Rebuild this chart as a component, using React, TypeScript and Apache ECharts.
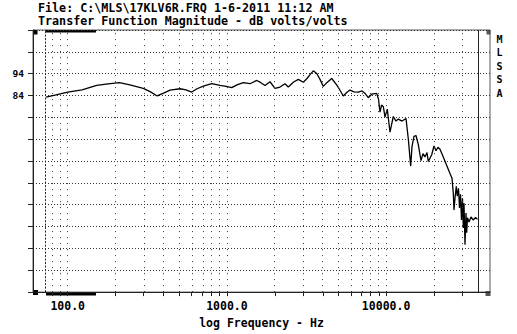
import { useEffect, useRef } from "react";
import * as echarts from "echarts";

const TITLE_LINES = [
  "File: C:\\MLS\\17KLV6R.FRQ 1-6-2011 11:12 AM",
  "Transfer Function Magnitude - dB volts/volts",
];
const SIDE_LABEL = ["M", "L", "S", "S", "A"];
const X_NAME = "log Frequency - Hz";

const FREQ_HZ = [
  73.1, 84.4, 100, 123, 152, 179, 211, 246, 298, 329,
  365, 403, 439, 508, 553, 601, 649, 711, 803, 905,
  987, 1072, 1157, 1268, 1397, 1539, 1626, 1735, 1865, 2005,
  2155, 2317, 2430, 2613, 2809, 3020, 3185, 3327, 3489, 3665,
  3844, 4032, 4255, 4553, 4894, 5133, 5385, 5680, 5934, 6286,
  6689, 7056, 7370, 7730, 8119, 8730, 8960, 9156, 9357, 9603,
  9843, 10174, 10580, 11098, 11539, 11928, 12588, 13335, 13785, 14271,
  14543, 14969, 15410, 15932, 16565, 17053, 17555, 18068, 18413, 19342,
  19995, 20584, 21184, 21806, 22869, 24030, 25200, 25942, 26431, 26700,
  27090, 27606, 28006, 28500, 28917, 29333, 29761, 30196, 30546, 30856,
  31307, 31765, 32088, 32460, 33171, 34147, 35298, 36443, 37512,
];
const MAGNITUDE_DB = [
  83.3, 84.3, 85.6, 86.6, 88.6, 89.3, 89.9, 88.9, 87.3, 85.8,
  83.8, 85.2, 86.5, 87.1, 86.6, 85.6, 87.1, 88.3, 89.5, 88.6,
  88.2, 87.6, 88.9, 89.9, 89.4, 90.9, 90.0, 88.6, 90.3, 87.3,
  87.9, 89.4, 87.9, 90.1, 91.4, 90.1, 91.8, 93.6, 95.3, 94.1,
  91.4, 88.2, 90.0, 91.8, 88.9, 86.4, 83.8, 85.5, 86.5, 85.7,
  85.6, 86.1, 85.0, 83.0, 84.6, 85.0, 82.3, 76.4, 79.6, 79.0,
  74.1, 77.8, 67.2, 74.4, 72.3, 73.2, 72.3, 73.5, 64.2, 51.7,
  60.6, 65.3, 65.7, 61.5, 54.2, 57.4, 55.9, 57.9, 53.8, 56.9,
  60.9, 58.7, 60.3, 59.4, 55.9, 52.0, 48.3, 46.1, 39.3, 31.6,
  37.0, 42.4, 37.9, 41.5, 32.5, 38.8, 27.0, 37.0, 23.4, 34.7,
  15.7, 30.2, 21.2, 28.0, 26.1, 28.4, 27.0, 28.2, 27.3,
];

const GRID_FREQS_HZ = [
  80, 90, 100, 200, 300, 400, 500, 600, 700, 800, 900,
  1000, 2000, 3000, 4000, 5000, 6000, 7000, 8000, 9000,
  10000, 20000, 30000,
];
const LABEL_FREQS_HZ = [100, 1000, 10000];
const Y_LABELS_DB = [94, 84];
const GATE_HZ = [73, 37800];

const FREQ_MIN = 60.5;
const FREQ_MAX = 44950;
const DB_MIN = -6;
const DB_MAX = 114;
const DB_STEP = 10;

const MONO = '"DejaVu Sans Mono", monospace';

export default function App() {
  const ref = useRef<HTMLDivElement>(null);

  useEffect(() => {
    if (!ref.current) return;
    const chart = echarts.init(ref.current, undefined, { renderer: "svg" });
    const lg = (f: number) => Math.log10(f);
    const data = FREQ_HZ.map((f, i) => [lg(f), MAGNITUDE_DB[i] - DB_MIN]);

    const option: any = {
      animation: false,
      backgroundColor: "#ffffff",
      grid: {
        left: 33,
        top: 30,
        right: 27,
        bottom: 39,
        show: true,
        borderColor: "#555",
        borderWidth: 1,
      },
      xAxis: {
        type: "value",
        min: lg(FREQ_MIN),
        max: lg(FREQ_MAX),
        name: X_NAME,
        nameLocation: "middle",
        nameGap: 24,
        nameTextStyle: { fontFamily: MONO, fontWeight: "bold", fontSize: 11.5, color: "#000" },
        axisLine: { show: true, lineStyle: { color: "#222", width: 1 } },
        axisTick: {
          show: true,
          length: 4,
          lineStyle: { color: "#222" },
          customValues: GRID_FREQS_HZ.map(lg),
        },
        axisLabel: {
          show: true,
          margin: 8,
          customValues: LABEL_FREQS_HZ.map(lg),
          formatter: (v: number) => Math.pow(10, v).toFixed(1),
          fontFamily: MONO,
          fontWeight: "bold",
          fontSize: 11.5,
          color: "#000",
        },
        splitLine: { show: false },
      },
      yAxis: {
        type: "value",
        min: 0,
        max: DB_MAX - DB_MIN,
        interval: DB_STEP,
        axisLine: { show: true, lineStyle: { color: "#222", width: 1 } },
        axisTick: { show: true, length: 5, lineStyle: { color: "#222" } },
        axisLabel: {
          margin: 9,
          formatter: (v: number) => {
            const db = Math.round(v + DB_MIN);
            return Y_LABELS_DB.includes(db) ? String(db) : "";
          },
          fontFamily: MONO,
          fontWeight: "bold",
          fontSize: 9.5,
          color: "#000",
        },
        splitLine: {
          show: true,
          lineStyle: { type: [1, 2], color: "#333", width: 1 },
        },
      },
      series: [
        {
          type: "line",
          data,
          showSymbol: false,
          symbol: "none",
          lineStyle: { color: "#000", width: 1.3 },
          markLine: {
            silent: true,
            symbol: "none",
            label: { show: false },
            lineStyle: { type: [1, 5], color: "#333", width: 1 },
            data: [
              ...GRID_FREQS_HZ.map((f) => ({ xAxis: lg(f) })),
              { xAxis: lg(GATE_HZ[0]), lineStyle: { type: [2, 1.5], color: "#222", width: 1 } },
              { xAxis: lg(GATE_HZ[1]), lineStyle: { type: "solid", color: "#222", width: 1 } },
            ],
          },
        },
      ],
      graphic: [
        { type: "rect", shape: { x: 33, y: 30, width: 4.5, height: 4.5 }, style: { fill: "#000" } },
        { type: "rect", shape: { x: 46, y: 30, width: 50, height: 2.5 }, style: { fill: "#000" } },
        { type: "rect", shape: { x: 46, y: 292.5, width: 50, height: 3 }, style: { fill: "#000" } },
        { type: "rect", shape: { x: 33, y: 290, width: 5, height: 5 }, style: { fill: "#000" } },
        { type: "rect", shape: { x: 486.5, y: 30, width: 4, height: 4.5 }, style: { fill: "#555" } },
        { type: "rect", shape: { x: 485.5, y: 291, width: 5, height: 5 }, style: { fill: "#555" } },
        {
          type: "text",
          style: { x: 38, y: 8, text: TITLE_LINES[0], font: `bold 11.7px ${MONO}`, fill: "#000", verticalAlign: "middle" },
        },
        {
          type: "text",
          style: { x: 38, y: 21, text: TITLE_LINES[1], font: `bold 11.7px ${MONO}`, fill: "#000", verticalAlign: "middle" },
        },
        ...SIDE_LABEL.map((ch, i) => ({
          type: "text",
          style: {
            x: 499.5,
            y: 39 + i * 13.6,
            text: ch,
            font: `bold 10px ${MONO}`,
            fill: "#000",
            align: "center",
            verticalAlign: "middle",
          },
        })),
      ],
    };

    chart.setOption(option);
    return () => chart.dispose();
  }, []);

  return (
    <div
      ref={ref}
      style={{ width: 517, height: 334, position: "absolute", left: 0, top: 0 }}
    />
  );
}
